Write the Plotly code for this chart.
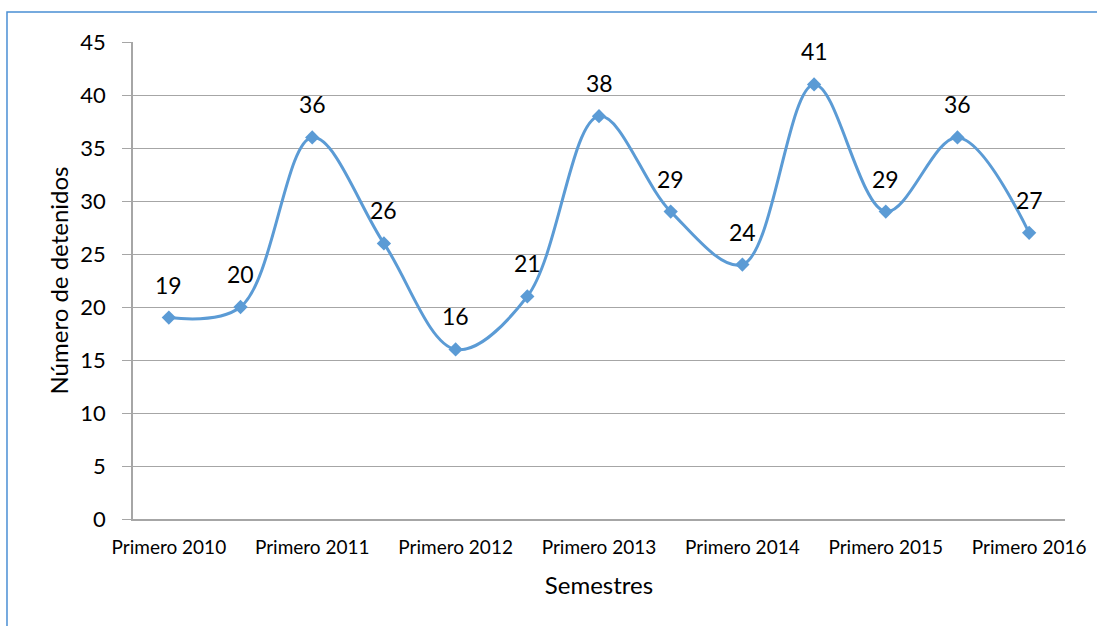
import plotly.graph_objects as go

categories = ["Primero 2010", "Segundo 2010", "Primero 2011", "Segundo 2011",
              "Primero 2012", "Segundo 2012", "Primero 2013", "Segundo 2013",
              "Primero 2014", "Segundo 2014", "Primero 2015", "Segundo 2015",
              "Primero 2016"]
detenidos = [19, 20, 36, 26, 16, 21, 38, 29, 24, 41, 29, 36, 27]
tick_labels = ["Primero 2010", "Primero 2011", "Primero 2012", "Primero 2013",
               "Primero 2014", "Primero 2015", "Primero 2016"]
y_ticks = [0, 5, 10, 15, 20, 25, 30, 35, 40, 45]

FONT = "Lato, 'Open Sans', sans-serif"
LINE = "#5b9bd5"
GRID = "#a6a6a6"

fig = go.Figure()
fig.add_trace(go.Scatter(
    x=categories, y=detenidos, mode="lines+markers",
    line=dict(color=LINE, width=3, shape="spline", smoothing=1.0),
    marker=dict(symbol="diamond", size=11, color=LINE),
    showlegend=False, hoverinfo="x+y",
))

for c, v in zip(categories, detenidos):
    fig.add_annotation(x=c, y=v, text=str(v), showarrow=False,
                       yanchor="middle", yshift=33,
                       font=dict(family=FONT, size=23, color="#000000"))

# outer chart frame (partially visible: left and top edges)
fig.add_shape(type="rect", xref="paper", yref="paper",
              x0=-0.1352, x1=1.2, y0=-0.4, y1=1.0629,
              line=dict(color="#4a8fd4", width=1.5), layer="below")

fig.update_layout(
    width=1097, height=626,
    margin=dict(l=133, r=32, t=42, b=107),
    paper_bgcolor="white", plot_bgcolor="white",
    font=dict(family=FONT, color="#000000"),
    xaxis=dict(
        type="category", categoryorder="array", categoryarray=categories,
        range=[-0.5, len(categories) - 0.5],
        tickmode="array", tickvals=tick_labels, ticktext=tick_labels,
        tickfont=dict(size=19), ticks="", showgrid=False,
        ticklabelstandoff=10,
        showline=True, linecolor=GRID, linewidth=1.5,
        title=dict(text="Semestres", font=dict(size=24), standoff=21),
        zeroline=False,
    ),
    yaxis=dict(
        range=[0, 45], tickmode="array", tickvals=y_ticks,
        tickfont=dict(size=22), ticks="outside", ticklen=9, tickcolor=GRID,
        ticklabelstandoff=12,
        showgrid=True, gridcolor=GRID, gridwidth=1.2,
        showline=True, linecolor=GRID, linewidth=1.5,
        zeroline=False,
        title=dict(text="Número de detenidos", font=dict(size=24), standoff=5),
    ),
)

fig.write_html("out.html", config={"displayModeBar": False},
               post_script="document.body.style.margin='0px';")
